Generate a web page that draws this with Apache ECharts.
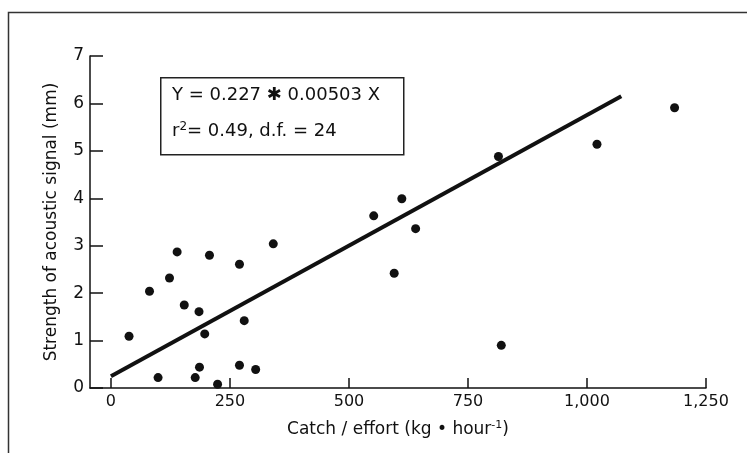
<!DOCTYPE html>
<html>
<head>
<meta charset="utf-8">
<script src="https://cdn.jsdelivr.net/npm/echarts@6/dist/echarts.min.js"></script>
<style>
  html, body { margin: 0; padding: 0; background: #fff; }
  #main { width: 747px; height: 453px; }
</style>
</head>
<body>
<div id="main"></div>
<script>
// catch/effort (kg/hour) vs acoustic signal strength (mm)
const catchEffort = [38, 81, 123, 139, 154, 185, 197, 207, 270, 280, 341,
  99, 177, 186, 224, 270, 304, 1184, 1021, 814, 611, 552, 640, 595, 820];
const signalMm = [1.09, 2.04, 2.32, 2.87, 1.75, 1.61, 1.14, 2.80, 2.61, 1.42, 3.04,
  0.22, 0.22, 0.44, 0.08, 0.48, 0.39, 5.91, 5.14, 4.88, 3.99, 3.63, 3.36, 2.42, 0.90];

// fitted line as drawn
const fitX = [0, 1072];
const fitY = [0.25, 6.15];

const xTicks = [0, 250, 500, 750, 1000, 1250];

const points = catchEffort.map((x, i) => [x, signalMm[i]]);
const fitLine = fitX.map((x, i) => [x, fitY[i]]);

const font = 'DejaVu Sans';
const ink = '#111';

const chart = echarts.init(document.getElementById('main'));
chart.setOption({
  backgroundColor: '#fff',
  animation: false,
  grid: { left: 90, right: 41, top: 56, bottom: 65 },
  xAxis: {
    type: 'value',
    min: -44,
    max: 1250,
    name: 'Catch / effort (kg • hour{sup|-1})',
    nameLocation: 'middle',
    nameGap: 32,
    nameTextStyle: {
      fontFamily: font, fontSize: 17, color: ink,
      rich: { sup: { fontFamily: font, fontSize: 11, color: ink, verticalAlign: 'top', padding: [0, 0, 9, 0] } }
    },
    axisLine: { onZero: false, lineStyle: { color: ink, width: 1.5 } },
    axisTick: { customValues: xTicks, inside: true, length: 10, lineStyle: { color: ink, width: 1.5 } },
    axisLabel: {
      customValues: xTicks,
      fontFamily: font, fontSize: 16, color: ink, margin: 6,
      formatter: v => v.toLocaleString('en-US')
    },
    splitLine: { show: false }
  },
  yAxis: {
    type: 'value',
    min: 0,
    max: 7,
    interval: 1,
    name: 'Strength of acoustic signal (mm)',
    nameLocation: 'middle',
    nameGap: 30,
    nameTextStyle: { fontFamily: font, fontSize: 17, color: ink },
    axisLine: { show: true, onZero: false, lineStyle: { color: ink, width: 1.5 } },
    axisTick: { show: true, inside: true, length: 13, lineStyle: { color: ink, width: 1.5 } },
    axisLabel: { fontFamily: font, fontSize: 17, color: ink, margin: 6 },
    splitLine: { show: false }
  },
  graphic: [
    {
      type: 'rect',
      left: 6, top: 10,
      shape: { width: 800, height: 500 },
      style: { fill: 'none', stroke: '#333', lineWidth: 1.5 },
      silent: true
    },
    {
      type: 'rect',
      left: 160, top: 77,
      shape: { width: 243, height: 77 },
      style: { fill: '#fff', stroke: '#222', lineWidth: 1.5 },
      z: 10
    },
    {
      type: 'text',
      left: 172, top: 86,
      style: { text: 'Y = 0.227 ✱ 0.00503 X', font: '18px "DejaVu Sans"', fill: ink },
      z: 11
    },
    {
      type: 'text',
      left: 172, top: 121,
      style: {
        text: 'r{sup|2}= 0.49, d.f. = 24',
        font: '18px "DejaVu Sans"', fill: ink,
        rich: { sup: { fontFamily: font, fontSize: 12, fill: ink, verticalAlign: 'top', padding: [0, 0, 9, 0] } }
      },
      z: 11
    }
  ],
  series: [
    {
      type: 'line',
      data: fitLine,
      symbol: 'none',
      lineStyle: { color: ink, width: 4 },
      z: 3
    },
    {
      type: 'scatter',
      data: points,
      symbol: 'circle',
      symbolSize: 9,
      itemStyle: { color: ink, opacity: 1 },
      z: 4
    }
  ]
});
</script>
</body>
</html>
